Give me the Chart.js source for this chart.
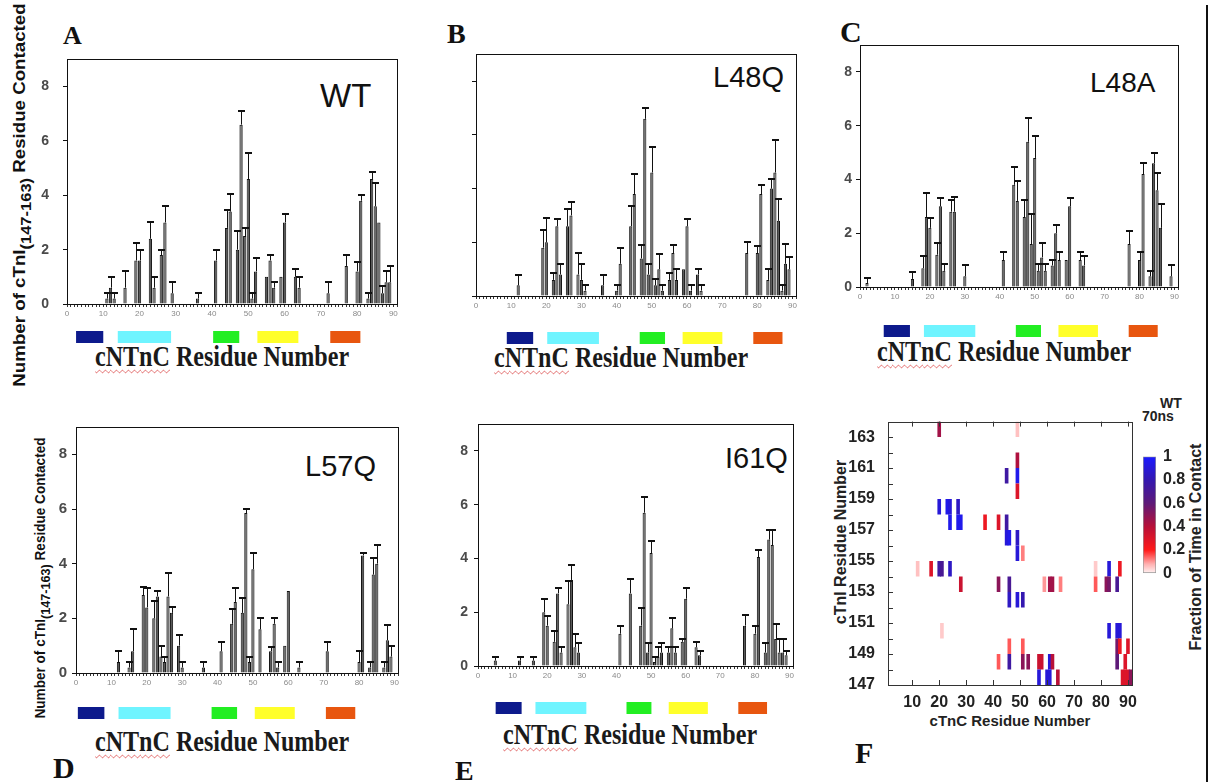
<!DOCTYPE html>
<html>
<head>
<meta charset="utf-8">
<script src="https://cdn.jsdelivr.net/npm/chart.js@4/dist/chart.umd.min.js"></script>
<style>
  body { margin: 0; width: 1214px; height: 782px; position: relative; overflow: hidden; background: #fff; font-family: "Liberation Sans", Arial, sans-serif; }
  canvas { position: absolute; }
  .lbl { position: absolute; font-family: "Liberation Serif", "Times New Roman", serif; font-weight: bold; line-height: 1; color: #111; }
  .xt { position: absolute; font: bold 29px/1 "Liberation Serif", "Times New Roman", serif; color: #1a1a1a; white-space: nowrap; transform: scaleX(0.83); transform-origin: left top; }
  .xt span { text-decoration: underline wavy #e06060; text-decoration-thickness: 1px; text-underline-offset: 3px; }
  .name { position: absolute; line-height: 1; color: #111; white-space: nowrap; }
  .vt { position: absolute; white-space: nowrap; font-weight: bold; line-height: 1; color: #111; }
  .vt sub { position: relative; top: 0.4em; vertical-align: baseline; }
  .ht { position: absolute; white-space: nowrap; font-weight: bold; line-height: 1; color: #222; }
</style>
</head>
<body>

<div class="lbl" style="left:63px;top:23px;font-size:26px">A</div>
<div class="lbl" style="left:447px;top:20px;font-size:28px">B</div>
<div class="lbl" style="left:840px;top:17px;font-size:30px">C</div>
<div class="lbl" style="left:53px;top:753px;font-size:30px">D</div>
<div class="lbl" style="left:455px;top:757px;font-size:28px">E</div>
<div class="lbl" style="left:855px;top:738px;font-size:30px">F</div>

<div class="name" style="left:320px;top:79px;font-size:33px">WT</div>
<div class="name" style="left:713px;top:63px;font-size:29px">L48Q</div>
<div class="name" style="left:1090px;top:69px;font-size:28px">L48A</div>
<div class="name" style="left:305px;top:452px;font-size:29px">L57Q</div>
<div class="name" style="left:725px;top:444px;font-size:29px">I61Q</div>

<div class="xt" style="left:95px;top:342px"><span>cNTnC</span> Residue Number</div>
<div class="xt" style="left:494px;top:343px"><span>cNTnC</span> Residue Number</div>
<div class="xt" style="left:877px;top:337px"><span>cNTnC</span> Residue Number</div>
<div class="xt" style="left:95px;top:727px"><span>cNTnC</span> Residue Number</div>
<div class="xt" style="left:503px;top:720px"><span>cNTnC</span> Residue Number</div>

<div class="vt" style="left:19px;top:195px;font-size:17px;transform:translate(-50%,-50%) rotate(-90deg) scaleX(1.1)">Number of cTnI<sub style="font-size:15px">(147-163)</sub> Residue Contacted</div>
<div class="vt" style="left:40px;top:578px;font-size:14px;transform:translate(-50%,-50%) rotate(-90deg) scaleX(0.97)">Number of cTnI<sub style="font-size:13px">(147-163)</sub> Residue Contacted</div>

<div class="ht" style="left:841px;top:542px;font-size:16px;transform:translate(-50%,-50%) rotate(-90deg)">cTnI Residue Number</div>
<div class="ht" style="left:1010px;top:720px;font-size:15px;transform:translate(-50%,-50%)">cTnC Residue Number</div>
<div class="ht" style="left:1196px;top:547px;font-size:16px;transform:translate(-50%,-50%) rotate(-90deg)">Fraction of Time in Contact</div>
<div class="ht" style="left:1160px;top:396px;font-size:14px">WT</div>
<div class="ht" style="left:1142px;top:409px;font-size:14px">70ns</div>

<div style="position:absolute;left:1206px;top:5px;width:2px;height:777px;background:#111"></div>

<script>
// contacts per cNTnC residue (mean, upper error bar)
const wtRes = [11,12,13,16,19,20,23,24,26,27,29,36,41,44,45,47,48,49,50,51,52,55,56,57,59,60,63,64,72,77,80,81,83,84,85,86,87,88,89];
const wtVal = [0.2,0.6,0.2,0.6,1.6,1.6,2.4,0.6,1.8,3.0,0.4,0.2,1.6,2.8,3.4,2.0,6.6,2.5,4.6,0.2,1.2,1.0,1.6,0.6,1.0,3.0,1.0,0.6,0.4,1.4,1.2,3.8,0.2,4.6,3.6,3.0,0.4,0.8,0.8];
const wtErr = [0.4,1.0,0.4,1.2,2.25,2.0,3.0,1.0,2.0,3.6,0.8,0.4,2.0,3.45,4.05,2.7,7.1,2.8,5.55,0.4,1.7,null,1.8,0.8,null,3.3,1.3,1.0,0.8,1.8,1.55,4.0,0.4,4.85,4.45,null,0.65,1.2,1.4];

const l48qRes = [12,19,20,22,23,24,26,27,29,30,31,36,40,41,44,45,47,48,49,50,51,52,53,55,56,57,59,60,61,63,64,77,80,81,83,84,85,86,87,88,89];
const l48qVal = [0.4,1.8,2.0,0.6,2.6,0.8,2.6,3.0,0.8,0.6,0.2,0.4,0.2,1.2,2.6,3.8,1.4,6.6,0.8,4.6,0.4,1.0,0.2,0.6,1.6,0.6,1.0,2.6,0.2,0.8,0.2,1.6,1.6,3.8,0.6,4.0,4.6,2.8,0.2,1.2,1.0];
const l48qErr = [0.8,2.45,2.9,0.85,2.85,1.2,3.25,3.5,1.6,1.2,0.4,0.8,0.4,1.8,3.35,4.55,1.9,7.0,1.2,5.55,0.65,1.55,0.4,0.85,1.9,1.0,null,2.85,0.4,1.0,0.4,2.0,1.85,4.15,1.0,4.35,5.8,3.6,0.4,1.95,1.45];

const l48aRes = [2,15,18,19,20,22,23,24,26,27,30,41,44,45,47,48,49,50,51,52,53,55,56,57,59,60,63,64,77,80,81,83,84,85,86,89];
const l48aVal = [0.15,0.3,0.7,2.6,2.2,1.2,3.0,0.6,2.8,2.8,0.4,1.0,3.8,3.2,2.6,5.4,1.6,4.8,0.6,1.1,0.6,0.8,2.0,1.0,1.0,3.0,1.0,0.8,1.6,1.0,4.2,0.4,4.6,3.6,2.2,0.4];
const l48aErr = [0.35,0.55,1.15,3.5,2.55,1.65,3.3,0.85,3.25,3.35,0.8,1.3,4.45,3.95,3.25,6.3,2.7,5.6,0.85,1.65,0.85,1.0,2.3,1.3,null,3.3,1.3,1.15,2.1,1.3,4.6,0.6,5.0,4.25,3.1,0.8];

const l57qRes = [12,15,16,19,20,22,23,24,25,26,27,29,30,36,41,44,45,47,48,49,50,52,55,56,57,59,60,63,71,80,81,83,84,85,87,88,89];
const l57qVal = [0.4,0.2,0.8,2.85,2.4,2.0,2.8,0.6,0.4,2.8,2.2,1.0,0.2,0.2,0.8,1.8,2.6,2.2,5.85,0.4,3.8,1.6,0.8,1.8,0.2,1.0,3.0,0.2,0.8,0.4,4.3,0.2,3.6,4.0,0.2,1.2,0.6];
const l57qErr = [0.8,0.4,1.6,3.15,3.1,2.65,3.0,1.0,0.6,3.65,2.4,1.4,0.4,0.4,1.15,2.35,3.1,2.75,6.0,0.6,4.4,2.0,0.95,2.0,0.4,null,null,0.4,1.15,0.8,4.4,0.4,4.2,4.7,0.4,1.75,1.0];

const i61qRes = [5,12,16,19,20,22,23,24,26,27,28,29,41,44,47,48,49,50,51,52,53,55,56,57,59,60,63,64,77,80,81,83,84,85,86,87,88,89];
const i61qVal = [0.2,0.2,0.2,2.0,1.5,0.9,2.7,0.5,2.3,3.2,0.7,0.5,1.2,2.7,1.5,5.7,0.5,4.2,0.15,0.35,0.5,0.5,1.4,0.5,0.9,2.5,0.7,0.4,1.5,1.2,4.05,0.5,4.7,4.5,1.0,0.5,0.5,0.4];
const i61qErr = [0.35,0.35,0.35,2.5,1.85,1.3,2.9,0.7,3.15,3.75,1.2,0.85,1.5,3.25,2.15,6.3,0.85,4.65,0.35,0.7,0.85,0.7,1.8,0.7,1.0,2.9,0.9,0.55,1.9,1.5,4.3,0.85,5.05,5.05,1.55,1.0,1.0,0.55];

const xTickLabels = [0,10,20,30,40,50,60,70,80,90];
const yTicks = [0,2,4,6,8];

// helix strip under each bar plot (residue ranges)
const helixStart = [2.5, 14, 40.3, 52.5, 72.6];
const helixEnd = [10, 28.7, 47.5, 63.8, 80.9];
const helixColor = ["#0d1a8c", "#6ff4ff", "#22ee22", "#ffff2a", "#e8560f"];

// panel F: contact map cells (cTnC residue, cTnI residue, fraction)
const cellX = [20,49,49,49,45,49,20,23,24,24,27,27,28,37,42,45,45,46,49,49,51,
  12,17,20,21,24,78,83,87,28,42,46,46,49,51,59,61,62,65,78,82,83,86,
  83,86,87,21,46,51,86,87,90,42,46,51,53,57,58,61,62,86,89,57,60,61,64,88,89,90,91];
const cellY = [163,163,161,160,160,159,158,158,158,157,158,157,157,157,157,157,156,156,156,155,155,
  154,154,154,154,154,154,154,154,153,153,153,152,152,152,153,153,153,153,153,153,153,153,
  150,150,150,150,149,149,149,149,149,148,148,148,148,148,148,148,148,148,148,147,147,147,147,147,147,147,147];
const cellV = [0.45,0.06,0.42,0.95,0.75,0.3,0.9,0.95,0.9,0.95,0.85,0.95,0.95,0.25,0.3,0.75,0.9,0.95,0.85,0.9,0.12,
  0.06,0.3,0.75,0.7,0.85,0.05,0.9,0.25,0.35,0.5,0.7,0.85,0.9,0.8,0.1,0.45,0.45,0.12,0.15,0.5,0.55,0.7,
  0.9,0.9,0.9,0.05,0.15,0.15,0.55,0.25,0.3,0.15,0.75,0.5,0.5,0.35,0.35,0.9,0.4,0.6,0.3,0.9,0.9,0.9,0.4,0.3,0.3,0.3,0.5];

const cmapPos = [0, 0.08, 0.2, 0.4, 0.6, 0.8, 1];
const cmapCol = ["#fff4f4", "#ffb0b0", "#ff1a1a", "#b81038", "#5e1a78", "#3418b0", "#1a1aff"];
const cbTicks = [0, 0.2, 0.4, 0.6, 0.8, 1];

Chart.defaults.font.family = '"Liberation Sans", Arial, sans-serif';

function hexRgb(h) {
  return [1, 3, 5].map(i => parseInt(h.slice(i, i + 2), 16));
}
function fracColor(v) {
  let i = 1;
  while (i < cmapPos.length - 1 && v > cmapPos[i]) i++;
  const t = Math.min(1, Math.max(0, (v - cmapPos[i - 1]) / (cmapPos[i] - cmapPos[i - 1])));
  const a = hexRgb(cmapCol[i - 1]), b = hexRgb(cmapCol[i]);
  const c = a.map((x, k) => Math.round(x + (b[k] - x) * t));
  return "rgb(" + c.join(",") + ")";
}

function makeCanvas(l, t, w, h) {
  const c = document.createElement("canvas");
  c.width = w; c.height = h;
  c.style.left = l + "px"; c.style.top = t + "px";
  c.style.width = w + "px"; c.style.height = h + "px";
  document.body.appendChild(c);
  return c;
}

const frame = {
  id: "frame",
  afterDraw(chart, args, o) {
    const a = chart.chartArea, c = chart.ctx;
    c.save();
    c.strokeStyle = o.color || "#111";
    c.lineWidth = 1;
    c.strokeRect(Math.round(a.left) + 0.5, Math.round(a.top) + 0.5, Math.round(a.right - a.left), Math.round(a.bottom - a.top));
    c.restore();
  }
};

const errorBars = {
  id: "errorBars",
  afterDatasetsDraw(chart) {
    const ds = chart.data.datasets[0];
    const meta = chart.getDatasetMeta(0);
    const y = chart.scales.y, c = chart.ctx;
    c.save();
    c.strokeStyle = "#111";
    meta.data.forEach((bar, i) => {
      const e = ds.errors[i];
      if (e == null) return;
      const x = Math.round(bar.x) + 0.5, ye = Math.round(y.getPixelForValue(e));
      c.lineWidth = 1;
      c.beginPath(); c.moveTo(x, bar.y); c.lineTo(x, ye); c.stroke();
      c.lineWidth = 2;
      c.beginPath(); c.moveTo(x - 3.5, ye); c.lineTo(x + 3.5, ye); c.stroke();
    });
    c.restore();
  }
};

const helix = {
  id: "helix",
  afterDraw(chart, args, o) {
    const x = chart.scales.x, c = chart.ctx;
    const top = chart.chartArea.bottom + o.dy;
    helixStart.forEach((s, i) => {
      const x0 = x.getPixelForValue(s) + o.dx, x1 = x.getPixelForValue(helixEnd[i]) + o.dx;
      c.fillStyle = helixColor[i];
      c.fillRect(x0, top, x1 - x0, 12);
    });
  }
};

const inTicks = {
  id: "inTicks",
  afterDraw(chart) {
    const a = chart.chartArea, c = chart.ctx, xs = chart.scales.x, ys = chart.scales.y;
    c.save();
    c.strokeStyle = "#333";
    c.lineWidth = 1;
    c.beginPath();
    ys.ticks.forEach(t => {
      const y = Math.round(ys.getPixelForValue(t.value)) + 0.5;
      c.moveTo(a.left, y); c.lineTo(a.left + 5, y);
    });
    xs.ticks.forEach(t => {
      const x = Math.round(xs.getPixelForValue(t.value)) + 0.5;
      c.moveTo(x, a.top); c.lineTo(x, a.top + 5);
      c.moveTo(x, a.bottom); c.lineTo(x, a.bottom - 5);
    });
    c.stroke();
    c.restore();
  }
};

const panels = [
  { res: wtRes, val: wtVal, err: wtErr, area: [67, 52, 397, 304], labels: true, pad: 14, font: 14, dy: 27, dx: 0 },
  { res: l48qRes, val: l48qVal, err: l48qErr, area: [476, 51, 796, 296], labels: false, pad: 10, font: 14, dy: 36, dx: 22 },
  { res: l48aRes, val: l48aVal, err: l48aErr, area: [860, 45, 1178, 287], labels: true, pad: 4, font: 14, dy: 38, dx: 15 },
  { res: l57qRes, val: l57qVal, err: l57qErr, area: [76, 427, 398, 673], labels: true, pad: 5, font: 15, dy: 34, dx: -7 },
  { res: i61qRes, val: i61qVal, err: i61qErr, area: [478, 424, 793, 666], labels: true, pad: 6, font: 14, dy: 36, dx: 9 }
];

panels.forEach(p => {
  const [l, t, r, b] = p.area;
  const cv = makeCanvas(l - 50, t - 15, r - l + 62, b - t + 70);
  new Chart(cv, {
    type: "bar",
    data: {
      datasets: [{
        data: p.res.map((x, i) => ({ x: x, y: p.val[i] })),
        errors: p.err,
        backgroundColor: "#5a5a5a",
        borderColor: "#111",
        borderWidth: 1,
        barPercentage: 0.9,
        categoryPercentage: 1
      }]
    },
    options: {
      responsive: false,
      animation: false,
      devicePixelRatio: 1,
      layout: { padding: { left: 0, top: 15, right: 12, bottom: 0 } },
      plugins: {
        legend: { display: false },
        tooltip: { enabled: false },
        helix: { dy: p.dy, dx: p.dx }
      },
      scales: {
        x: {
          type: "linear", min: 0, max: 91, offset: false,
          afterFit: s => { s.height = 55; },
          grid: { drawOnChartArea: false, offset: false, tickLength: 3, color: "#333" },
          border: { color: "#111" },
          ticks: {
            stepSize: 1, autoSkip: false, maxRotation: 0, color: "#8a8a8a",
            font: { size: 8 }, padding: 2,
            callback: v => xTickLabels.includes(v) ? v : ""
          }
        },
        y: {
          min: 0, max: 9,
          afterFit: s => { s.width = 50; },
          afterBuildTicks: s => { s.ticks = yTicks.map(v => ({ value: v })); },
          grid: { drawOnChartArea: false, tickLength: 4, color: "#111" },
          border: { color: "#111" },
          ticks: {
            color: p.labels ? "#4a4a4a" : "rgba(0,0,0,0)",
            font: { size: p.font, weight: "bold" },
            padding: p.pad
          }
        }
      }
    },
    plugins: [frame, errorBars, helix]
  });
});

// panel F: contact map
new Chart(makeCanvas(838, 407, 302, 308), {
  type: "bar",
  data: {
    datasets: [{
      data: cellX.map((x, i) => ({ x: x, y: [cellY[i], cellY[i] + 1] })),
      backgroundColor: cellV.map(fracColor),
      borderWidth: 0,
      barPercentage: 1.35,
      categoryPercentage: 1,
      grouped: false
    }]
  },
  options: {
    responsive: false,
    animation: false,
    devicePixelRatio: 1,
    layout: { padding: { left: 0, top: 10, right: 8, bottom: 0 } },
    plugins: { legend: { display: false }, tooltip: { enabled: false }, frame: { color: "#333" } },
    scales: {
      x: {
        type: "linear", min: 1, max: 91.5, offset: false,
        afterFit: s => { s.height = 30; },
        grid: { display: false, offset: false },
        border: { display: false },
        ticks: { stepSize: 10, includeBounds: false, maxRotation: 0, color: "#222", font: { size: 16, weight: "bold", lineHeight: 1 }, padding: 2 }
      },
      y: {
        min: 147, max: 164,
        afterFit: s => { s.width = 50; },
        grid: { display: false },
        border: { display: false },
        ticks: {
          stepSize: 1, autoSkip: false, includeBounds: false, color: "#222",
          font: { size: 16, weight: "bold" }, padding: 5,
          callback: v => (v % 2 === 1 && v <= 163) ? v : ""
        }
      }
    }
  },
  plugins: [frame, inTicks]
});

// colour bar
new Chart(makeCanvas(1143, 440, 48, 150), {
  type: "bar",
  data: {
    labels: [""],
    datasets: [{
      data: [[0, 1]],
      backgroundColor: ctx => {
        const a = ctx.chart.chartArea;
        if (!a) return null;
        const g = ctx.chart.ctx.createLinearGradient(0, a.bottom, 0, a.top);
        cmapPos.forEach((s, i) => g.addColorStop(s, cmapCol[i]));
        return g;
      },
      borderColor: "#999",
      borderWidth: 1,
      borderSkipped: false,
      barPercentage: 1,
      categoryPercentage: 1
    }]
  },
  options: {
    responsive: false,
    animation: false,
    devicePixelRatio: 1,
    layout: { padding: { left: 0, top: 8, right: 0, bottom: 8 } },
    plugins: { legend: { display: false }, tooltip: { enabled: false } },
    scales: {
      x: { display: false },
      y: {
        position: "right", min: 0, max: 1,
        afterFit: s => { s.width = 35; },
        afterBuildTicks: s => { s.ticks = cbTicks.map(v => ({ value: v })); },
        grid: { drawOnChartArea: false, drawTicks: false },
        border: { display: false },
        ticks: { color: "#222", font: { size: 16, weight: "bold" }, padding: 7, callback: v => String(v) }
      }
    }
  }
});
</script>
</body>
</html>
